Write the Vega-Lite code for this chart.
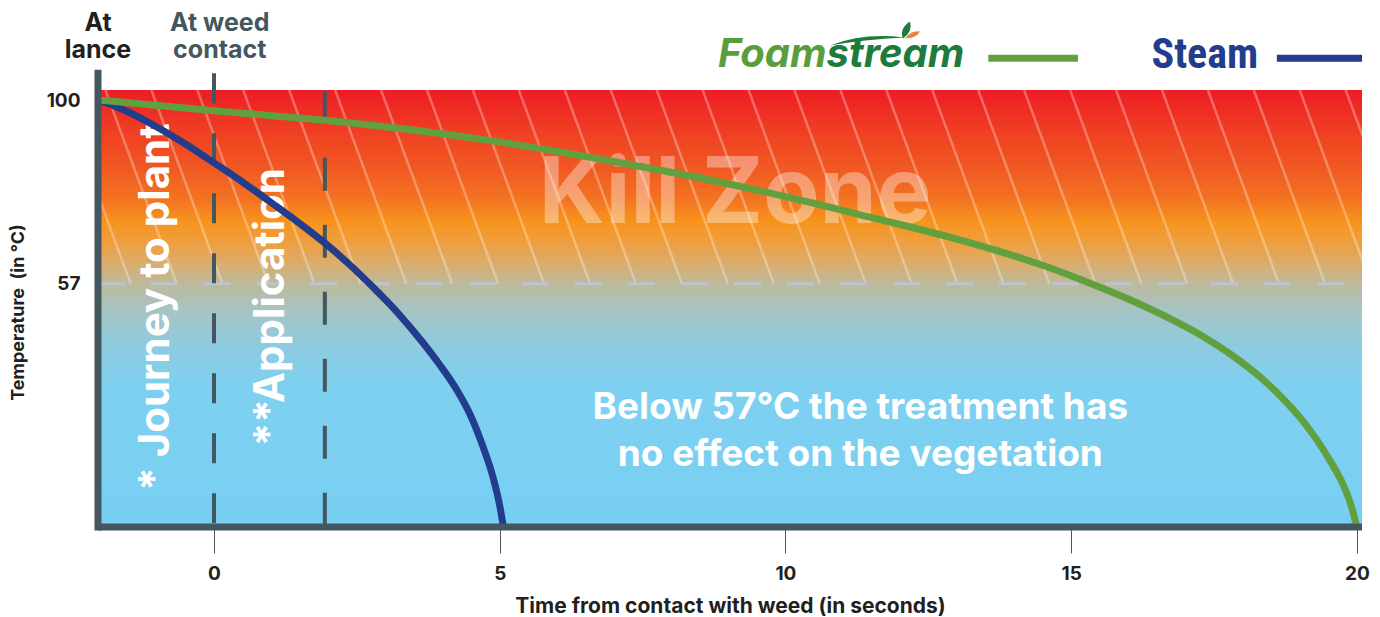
{
  "$schema": "https://vega.github.io/schema/vega-lite/v6.json",
  "autosize": {"type": "none"},
  "width": 1264,
  "height": 437,
  "padding": {"left": 98, "top": 90, "right": 18, "bottom": 90},
  "background": "white",
  "config": {"view": {"stroke": null}, "font": "Inter"},
  "datasets": {
    "curves": [
      {"series": "Steam", "t": -2.02, "temp": 100},
      {"series": "Steam", "t": -1.5, "temp": 97.2},
      {"series": "Steam", "t": -1.0, "temp": 93.7},
      {"series": "Steam", "t": -0.5, "temp": 89.7},
      {"series": "Steam", "t": 0, "temp": 85.3},
      {"series": "Steam", "t": 0.5, "temp": 80.8},
      {"series": "Steam", "t": 1.0, "temp": 76.0},
      {"series": "Steam", "t": 1.5, "temp": 71.1},
      {"series": "Steam", "t": 1.94, "temp": 66.5},
      {"series": "Steam", "t": 2.36, "temp": 61.6},
      {"series": "Steam", "t": 2.78, "temp": 56.2},
      {"series": "Steam", "t": 3.2, "temp": 50.4},
      {"series": "Steam", "t": 3.66, "temp": 43.1},
      {"series": "Steam", "t": 3.95, "temp": 38.0},
      {"series": "Steam", "t": 4.25, "temp": 32.1},
      {"series": "Steam", "t": 4.48, "temp": 26.4},
      {"series": "Steam", "t": 4.71, "temp": 18.7},
      {"series": "Steam", "t": 4.88, "temp": 11.8},
      {"series": "Steam", "t": 5.0, "temp": 5.0},
      {"series": "Steam", "t": 5.065, "temp": 0},
      {"series": "Foamstream", "t": -2.02, "temp": 100},
      {"series": "Foamstream", "t": 0, "temp": 97.5},
      {"series": "Foamstream", "t": 2.36, "temp": 94.7},
      {"series": "Foamstream", "t": 4.99, "temp": 90.2},
      {"series": "Foamstream", "t": 6.74, "temp": 86.2},
      {"series": "Foamstream", "t": 8.49, "temp": 81.8},
      {"series": "Foamstream", "t": 10.25, "temp": 76.6},
      {"series": "Foamstream", "t": 11.5, "temp": 72.5},
      {"series": "Foamstream", "t": 12.87, "temp": 67.9},
      {"series": "Foamstream", "t": 13.76, "temp": 64.5},
      {"series": "Foamstream", "t": 14.5, "temp": 61.3},
      {"series": "Foamstream", "t": 15.33, "temp": 57.1},
      {"series": "Foamstream", "t": 16.0, "temp": 53.4},
      {"series": "Foamstream", "t": 16.67, "temp": 49.2},
      {"series": "Foamstream", "t": 17.3, "temp": 44.7},
      {"series": "Foamstream", "t": 17.83, "temp": 40.1},
      {"series": "Foamstream", "t": 18.3, "temp": 35.2},
      {"series": "Foamstream", "t": 18.71, "temp": 30.0},
      {"series": "Foamstream", "t": 19.05, "temp": 24.9},
      {"series": "Foamstream", "t": 19.3, "temp": 20.4},
      {"series": "Foamstream", "t": 19.55, "temp": 15.1},
      {"series": "Foamstream", "t": 19.76, "temp": 9.9},
      {"series": "Foamstream", "t": 19.9, "temp": 5.0},
      {"series": "Foamstream", "t": 20.0, "temp": 0}
    ],
    "hatch": [
      {"a": -2.704, "b": -1.459}, {"a": -1.9, "b": -0.655}, {"a": -1.096, "b": 0.149},
      {"a": -0.292, "b": 0.953}, {"a": 0.512, "b": 1.757}, {"a": 1.315, "b": 2.56},
      {"a": 2.119, "b": 3.364}, {"a": 2.923, "b": 4.168}, {"a": 3.727, "b": 4.972},
      {"a": 4.531, "b": 5.776}, {"a": 5.335, "b": 6.58}, {"a": 6.139, "b": 7.384},
      {"a": 6.943, "b": 8.188}, {"a": 7.747, "b": 8.992}, {"a": 8.551, "b": 9.796},
      {"a": 9.355, "b": 10.6}, {"a": 10.158, "b": 11.403}, {"a": 10.962, "b": 12.207},
      {"a": 11.766, "b": 13.011}, {"a": 12.57, "b": 13.815}, {"a": 13.374, "b": 14.619},
      {"a": 14.178, "b": 15.423}, {"a": 14.982, "b": 16.227}, {"a": 15.786, "b": 17.031},
      {"a": 16.59, "b": 17.835}, {"a": 17.393, "b": 18.638}, {"a": 18.197, "b": 19.442},
      {"a": 19.001, "b": 20.246}, {"a": 19.805, "b": 21.05}
    ],
    "one": [{}]
  },
  "layer": [
    {
      "data": {"name": "one"},
      "mark": {"type": "rect", "color": {"gradient": "linear", "x1": 0, "y1": 0, "x2": 0, "y2": 1,
        "stops": [
          {"offset": 0, "color": "#ED1C24"},
          {"offset": 0.092, "color": "#EF3E23"},
          {"offset": 0.183, "color": "#F15A22"},
          {"offset": 0.252, "color": "#F37421"},
          {"offset": 0.302, "color": "#F7941D"},
          {"offset": 0.355, "color": "#EDA045"},
          {"offset": 0.394, "color": "#DCAC6A"},
          {"offset": 0.442, "color": "#BEB99A"},
          {"offset": 0.503, "color": "#A6C4C4"},
          {"offset": 0.584, "color": "#8ECBDF"},
          {"offset": 0.675, "color": "#7ED0F0"},
          {"offset": 1, "color": "#78CFF3"}
        ]}},
      "encoding": {
        "x": {"datum": -2.03, "type": "quantitative", "scale": {"domain": [-2.03, 20.09], "nice": false, "zero": false},
          "axis": {"values": [0, 5, 10, 15, 20], "format": "d", "domain": false, "grid": false, "tickSize": 26, "tickWidth": 1, "tickColor": "#44575F",
            "labelFontSize": 19, "labelFontWeight": "bold", "labelColor": "#231F20", "labelPadding": 11, "labelFont": "Inter",
            "title": "Time from contact with weed (in seconds)", "titleFontSize": 21, "titleFontWeight": "bold", "titleColor": "#231F20",
            "titleFont": "Inter", "titleY": 79, "titleBaseline": "middle"}},
        "x2": {"datum": 20.09},
        "y": {"datum": 0, "type": "quantitative", "scale": {"domain": [0, 102.35], "nice": false},
          "axis": {"values": [57, 100], "domain": false, "grid": false, "ticks": false, "labelPadding": 18,
            "labelFontSize": 19, "labelFontWeight": "bold", "labelColor": "#231F20", "labelFont": "Inter",
            "title": "Temperature\u00a0 (in °C)", "titleFontSize": 18, "titleFontWeight": "bold", "titleColor": "#231F20", "titleFont": "Inter",
            "titleX": -80, "titleY": 222, "titleAngle": 270, "titleAlign": "center", "titleBaseline": "middle"}},
        "y2": {"datum": 102.35}
      }
    },
    {
      "data": {"name": "hatch"},
      "mark": {"type": "rule", "clip": true, "color": "white", "opacity": 0.3, "strokeWidth": 2.5},
      "encoding": {
        "x": {"field": "a", "type": "quantitative"},
        "x2": {"field": "b"},
        "y": {"datum": 102.35, "type": "quantitative"},
        "y2": {"datum": 57}
      }
    },
    {
      "data": {"name": "one"},
      "mark": {"type": "rule", "color": "#B9C6D0", "strokeWidth": 3, "strokeDash": [27, 26]},
      "encoding": {"x": {"datum": -2.03, "type": "quantitative"}, "x2": {"datum": 20.09}, "y": {"datum": 57, "type": "quantitative"}}
    },
    {
      "data": {"name": "one"},
      "mark": {"type": "rule", "color": "#44575F", "strokeWidth": 4, "strokeDash": [30, 30]},
      "encoding": {"x": {"datum": 0, "type": "quantitative"}, "y": {"datum": 106.3, "type": "quantitative"}, "y2": {"datum": 0}}
    },
    {
      "data": {"name": "one"},
      "mark": {"type": "rule", "color": "#44575F", "strokeWidth": 4, "strokeDash": [33, 34]},
      "encoding": {"x": {"datum": 1.94, "type": "quantitative"}, "y": {"datum": 102.2, "type": "quantitative"}, "y2": {"datum": 0}}
    },
    {
      "data": {"name": "one"},
      "mark": {"type": "text", "text": "Kill Zone", "font": "Inter", "fontWeight": "bold", "fontSize": 92, "color": "white", "opacity": 0.36, "align": "center", "baseline": "middle"},
      "encoding": {"x": {"datum": 9.12, "type": "quantitative"}, "y": {"datum": 77.8, "type": "quantitative"}}
    },
    {
      "data": {"name": "one"},
      "mark": {"type": "text", "text": "* Journey to plant", "font": "Inter", "fontWeight": "bold", "fontSize": 42, "color": "white", "angle": 270, "align": "center", "baseline": "middle"},
      "encoding": {"x": {"datum": -1.015, "type": "quantitative"}, "y": {"datum": 51.5, "type": "quantitative"}}
    },
    {
      "data": {"name": "one"},
      "mark": {"type": "text", "text": "**Application", "font": "Inter", "fontWeight": "bold", "fontSize": 42, "color": "white", "angle": 270, "align": "center", "baseline": "middle"},
      "encoding": {"x": {"datum": 1.0, "type": "quantitative"}, "y": {"datum": 51.5, "type": "quantitative"}}
    },
    {
      "data": {"name": "one"},
      "mark": {"type": "text", "text": ["Below 57°C the treatment has", "no effect on the vegetation"], "lineHeight": 47, "font": "Inter", "fontWeight": "bold", "fontSize": 37, "color": "white", "align": "center", "baseline": "middle"},
      "encoding": {"x": {"datum": 11.31, "type": "quantitative"}, "y": {"datum": 27.9, "type": "quantitative"}}
    },
    {
      "data": {"name": "curves"},
      "mark": {"type": "line", "interpolate": "monotone", "strokeWidth": 7, "strokeCap": "butt"},
      "encoding": {
        "x": {"field": "t", "type": "quantitative"},
        "y": {"field": "temp", "type": "quantitative"},
        "color": {"field": "series", "type": "nominal", "scale": {"domain": ["Foamstream", "Steam"], "range": ["#62A03F", "#233D8C"]}, "legend": null},
        "detail": {"field": "series"}
      }
    },
    {
      "data": {"name": "one"},
      "mark": {"type": "rule", "color": "#44575F", "strokeWidth": 7, "strokeCap": "square"},
      "encoding": {"x": {"datum": -2.03, "type": "quantitative"}, "y": {"datum": 106.3, "type": "quantitative"}, "y2": {"datum": 0}}
    },
    {
      "data": {"name": "one"},
      "mark": {"type": "rule", "color": "#44575F", "strokeWidth": 7},
      "encoding": {"x": {"datum": -2.03, "type": "quantitative"}, "x2": {"datum": 20.09}, "y": {"datum": 0, "type": "quantitative"}}
    },
    {
      "data": {"name": "one"},
      "mark": {"type": "text", "text": ["At", "lance"], "lineHeight": 27, "font": "Inter", "fontWeight": "bold", "fontSize": 25, "color": "#231F20", "align": "center", "baseline": "middle"},
      "encoding": {"x": {"datum": -2.03, "type": "quantitative"}, "y": {"datum": 118.0, "type": "quantitative"}}
    },
    {
      "data": {"name": "one"},
      "mark": {"type": "text", "text": ["At weed", "contact"], "lineHeight": 27, "font": "Inter", "fontWeight": "bold", "fontSize": 25, "color": "#44575F", "align": "center", "baseline": "middle"},
      "encoding": {"x": {"datum": 0.1, "type": "quantitative"}, "y": {"datum": 118.0, "type": "quantitative"}}
    },
    {
      "data": {"name": "one"},
      "mark": {"type": "text", "text": "Foam", "font": "Inter", "fontWeight": "bold", "fontStyle": "italic", "fontSize": 40, "color": "#5A9E3B", "align": "right", "baseline": "middle"},
      "encoding": {"x": {"datum": 10.72, "type": "quantitative"}, "y": {"datum": 110.5, "type": "quantitative"}}
    },
    {
      "data": {"name": "one"},
      "mark": {"type": "text", "text": "stream", "font": "Inter", "fontWeight": "bold", "fontStyle": "italic", "fontSize": 40, "color": "#1E7B3C", "align": "left", "baseline": "middle"},
      "encoding": {"x": {"datum": 10.72, "type": "quantitative"}, "y": {"datum": 110.5, "type": "quantitative"}}
    },
    {
      "data": {"name": "one"},
      "mark": {"type": "point", "filled": true, "opacity": 1, "size": 10000, "color": "#1E7B3C",
        "shape": "M-0.88,0.24 Q-0.2,-0.02 0.6,0.08 Q-0.2,0.12 -0.88,0.24 Z M0.58,0.1 Q0.5,-0.1 0.72,-0.24 Q0.78,-0.04 0.58,0.1 Z"},
      "encoding": {"x": {"datum": 11.55, "type": "quantitative"}, "y": {"datum": 115.6, "type": "quantitative"}}
    },
    {
      "data": {"name": "one"},
      "mark": {"type": "point", "filled": true, "opacity": 1, "size": 10000, "color": "#E8843A",
        "shape": "M0.62,0.1 Q0.74,-0.06 0.92,-0.04 Q0.84,0.1 0.62,0.1 Z"},
      "encoding": {"x": {"datum": 11.55, "type": "quantitative"}, "y": {"datum": 115.6, "type": "quantitative"}}
    },
    {
      "data": {"name": "one"},
      "mark": {"type": "rule", "color": "#62A03F", "strokeWidth": 7},
      "encoding": {"x": {"datum": 13.55, "type": "quantitative"}, "x2": {"datum": 15.12}, "y": {"datum": 109.8, "type": "quantitative"}}
    },
    {
      "data": {"name": "one"},
      "mark": {"type": "text", "text": "Steam", "font": "Liberation Sans Narrow, Noto Sans Condensed, Roboto Condensed, DejaVu Sans Condensed, Liberation Sans", "fontWeight": "bold", "fontSize": 42, "color": "#233D8C", "align": "center", "baseline": "middle"},
      "encoding": {"x": {"datum": 17.34, "type": "quantitative"}, "y": {"datum": 110.5, "type": "quantitative"}}
    },
    {
      "data": {"name": "one"},
      "mark": {"type": "rule", "color": "#233D8C", "strokeWidth": 7},
      "encoding": {"x": {"datum": 18.6, "type": "quantitative"}, "x2": {"datum": 20.09}, "y": {"datum": 109.8, "type": "quantitative"}}
    }
  ]
}
